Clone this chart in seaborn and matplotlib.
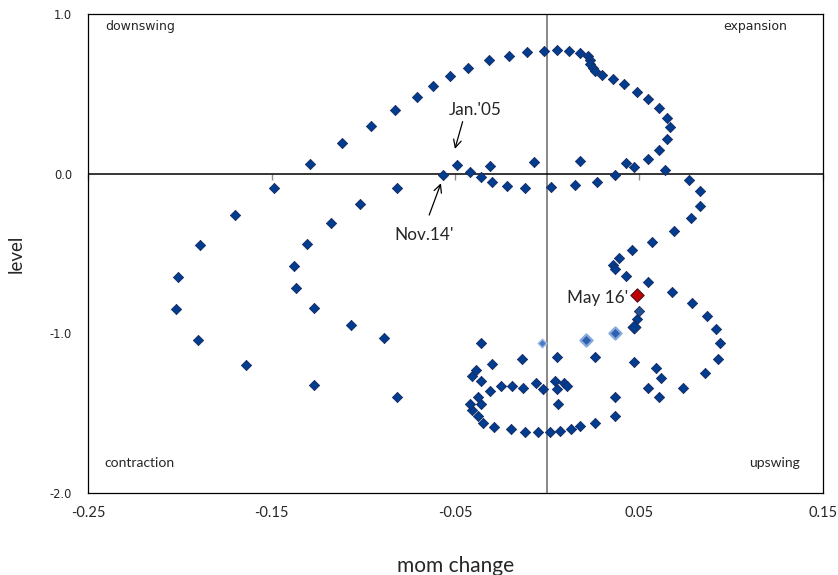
import matplotlib
matplotlib.use("Agg")
import matplotlib.pyplot as plt
import pandas as pd
import seaborn as sns

# Monthly readings: month-over-month change (x) against level (y)
mom_change = [
    -0.149, -0.129, -0.112, -0.096, -0.083, -0.071, -0.062, -0.053, -0.043, -0.032,
    -0.021, -0.011, -0.002, 0.005, 0.012, 0.018, 0.022, 0.023, 0.0235, 0.025,
    0.026, 0.030, 0.036, 0.042, 0.049, 0.055, 0.061, 0.065, 0.067, 0.065,
    0.061, 0.055, 0.047, 0.043, 0.064, 0.037, 0.027, 0.018, 0.015, 0.002,
    -0.007, -0.012, -0.022, -0.030, -0.031, -0.036, -0.042, -0.049, -0.057, -0.082,
    0.077, 0.083, 0.083, 0.078, 0.069, 0.057, 0.046, 0.039, 0.036, 0.037,
    0.043, 0.055, 0.049,
    0.068, 0.079, 0.087, 0.092, 0.094, 0.093, 0.086, 0.074, 0.059, 0.062,
    0.047, 0.055, 0.061, 0.037, 0.026, 0.005,
    0.037, 0.026, 0.018, 0.013, 0.007, 0.0015, -0.005, -0.012, -0.020, -0.029,
    -0.035, -0.038, -0.041, -0.042, -0.036, -0.038, -0.031, -0.036, -0.041, -0.039,
    -0.030, -0.036, -0.014, -0.025, -0.019, -0.013, -0.006, -0.0025, 0.004, 0.005,
    0.009, 0.0105, 0.006,
    -0.102, -0.118, -0.131, -0.138, -0.137, -0.127, -0.107, -0.089, -0.082, -0.170,
    -0.189, -0.201, -0.202, -0.190, -0.164, -0.127,
]
level = [
    -0.09, 0.06, 0.19, 0.30, 0.40, 0.48, 0.55, 0.61, 0.66, 0.71,
    0.74, 0.76, 0.77, 0.775, 0.77, 0.755, 0.735, 0.71, 0.685, 0.665,
    0.645, 0.62, 0.59, 0.56, 0.51, 0.47, 0.41, 0.35, 0.29, 0.22,
    0.15, 0.09, 0.04, 0.07, 0.02, -0.01, -0.05, 0.08, -0.07, -0.085,
    0.075, -0.09, -0.075, -0.05, 0.05, -0.02, 0.01, 0.055, -0.01, -0.09,
    -0.04, -0.11, -0.20, -0.28, -0.36, -0.43, -0.48, -0.53, -0.57, -0.60,
    -0.64, -0.68, -0.91,
    -0.74, -0.81, -0.89, -0.97, -1.06, -1.16, -1.25, -1.34, -1.22, -1.28,
    -1.18, -1.345, -1.40, -1.40, -1.15, -1.15,
    -1.52, -1.56, -1.58, -1.60, -1.61, -1.62, -1.62, -1.62, -1.60, -1.585,
    -1.56, -1.52, -1.48, -1.44, -1.445, -1.40, -1.36, -1.30, -1.27, -1.23,
    -1.19, -1.06, -1.16, -1.33, -1.33, -1.34, -1.31, -1.35, -1.30, -1.35,
    -1.31, -1.33, -1.44,
    -0.19, -0.31, -0.44, -0.58, -0.715, -0.84, -0.95, -1.03, -1.40, -0.26,
    -0.445, -0.65, -0.845, -1.04, -1.20, -1.325,
]

# Latest months, drawn with their own styling
recent_mom = [-0.003, 0.021, 0.037, 0.047, 0.050]
recent_level = [-1.06, -1.04, -1.00, -0.96, -0.86]
recent_kind = ["faded", "faded_big", "faded_big", "dark_big", "mid"]

current_mom = [0.049]
current_level = [-0.76]

x_ticks = [-0.25, -0.15, -0.05, 0.05, 0.15]
y_ticks = [1.0, 0.0, -1.0, -2.0]

history = pd.DataFrame({"mom change": mom_change, "level": level})
recent = pd.DataFrame({"mom change": recent_mom, "level": recent_level, "kind": recent_kind})
current = pd.DataFrame({"mom change": current_mom, "level": current_level})

sns.set_theme(style="white")
plt.rcParams["font.family"] = ["DejaVu Sans"]

fig = plt.figure(figsize=(8.38, 5.75), dpi=100)
ax = fig.add_axes([0.105, 0.1426, 0.877, 0.833])

# Quadrant cross-hairs
ax.axvline(0, color="#7f7f7f", lw=1.3, zorder=1)
ax.axhline(0, color="black", lw=1.1, zorder=1)

dark_fill, dark_edge = "#003c8f", "#1b2a5e"
sns.scatterplot(data=history, x="mom change", y="level", ax=ax, marker="D",
                s=27, color=dark_fill, edgecolor=dark_edge, linewidth=0.6, zorder=3)

styles = {
    "faded": dict(s=20, color="#4a7bc4", edgecolor="#a8c0e6", linewidth=1.0),
    "faded_big": dict(s=38, color="#2d60ae", edgecolor="#86a8dc", linewidth=1.6),
    "dark_big": dict(s=42, color="#003c8f", edgecolor="#1b2a5e", linewidth=0.8),
    "mid": dict(s=27, color="#22508f", edgecolor="#1b2a5e", linewidth=0.6),
}
for kind, sub in recent.groupby("kind"):
    sns.scatterplot(data=sub, x="mom change", y="level", ax=ax, marker="D",
                    zorder=4, **styles[kind])

sns.scatterplot(data=current, x="mom change", y="level", ax=ax, marker="D",
                s=46, color="#c00000", edgecolor="#4a1020", linewidth=0.8, zorder=5)

ax.set_xlim(-0.25, 0.15)
ax.set_ylim(-2.0, 1.0)
ax.set_xticks(x_ticks)
ax.set_xticklabels([f"{t:.2f}" for t in x_ticks], fontfamily="Lato", fontsize=10.5)
ax.set_yticks(y_ticks)
ax.set_yticklabels([f"{t:.1f}" for t in y_ticks], fontsize=8.3)
ax.tick_params(axis="x", length=0, pad=9)
ax.tick_params(axis="y", length=0, pad=11.5)

for sp in ax.spines.values():
    sp.set_visible(True)
    sp.set_color("black")
    sp.set_linewidth(0.9)

# Small tick marks hanging from the zero line
zero_axis = ax.secondary_xaxis(2 / 3)
zero_axis.set_xticks(x_ticks)
zero_axis.set_xticklabels([])
zero_axis.tick_params(axis="x", direction="out", length=4, width=1, color="#8c8c8c",
                      bottom=True, top=False)
zero_axis.spines["bottom"].set_visible(False)
zero_axis.spines["top"].set_visible(False)

ax.set_xlabel("mom change", fontfamily="Lato", fontsize=15, labelpad=26)
ax.set_ylabel("level", fontfamily="Lato", fontsize=13.5, labelpad=18)

# Quadrant names
ax.text(0.023, 0.975, "downswing", transform=ax.transAxes, ha="left", va="center", fontsize=9)
ax.text(0.951, 0.975, "expansion", transform=ax.transAxes, ha="right", va="center", fontsize=9)
ax.text(0.022, 0.063, "contraction", transform=ax.transAxes, ha="left", va="center",
        fontfamily="Lato", fontsize=10)
ax.text(0.969, 0.063, "upswing", transform=ax.transAxes, ha="right", va="center",
        fontfamily="Lato", fontsize=10)

# Call-outs
arrow = dict(arrowstyle="->", color="black", lw=0.9, mutation_scale=14,
             shrinkA=0, shrinkB=0)
ax.text(-0.0391, 0.398, "Jan.'05", ha="center", va="center", fontfamily="Lato", fontsize=12.3)
ax.annotate("", xy=(-0.0503, 0.155), xytext=(-0.0461, 0.326), arrowprops=arrow)
ax.text(-0.0672, -0.384, "Nov.14'", ha="center", va="center", fontfamily="Lato", fontsize=12.3)
ax.annotate("", xy=(-0.0579, -0.060), xytext=(-0.0643, -0.259), arrowprops=arrow)
ax.text(0.0439, -0.778, "May 16'", ha="right", va="center", fontfamily="Lato", fontsize=12.3)

fig.savefig("out.png", dpi=100)
